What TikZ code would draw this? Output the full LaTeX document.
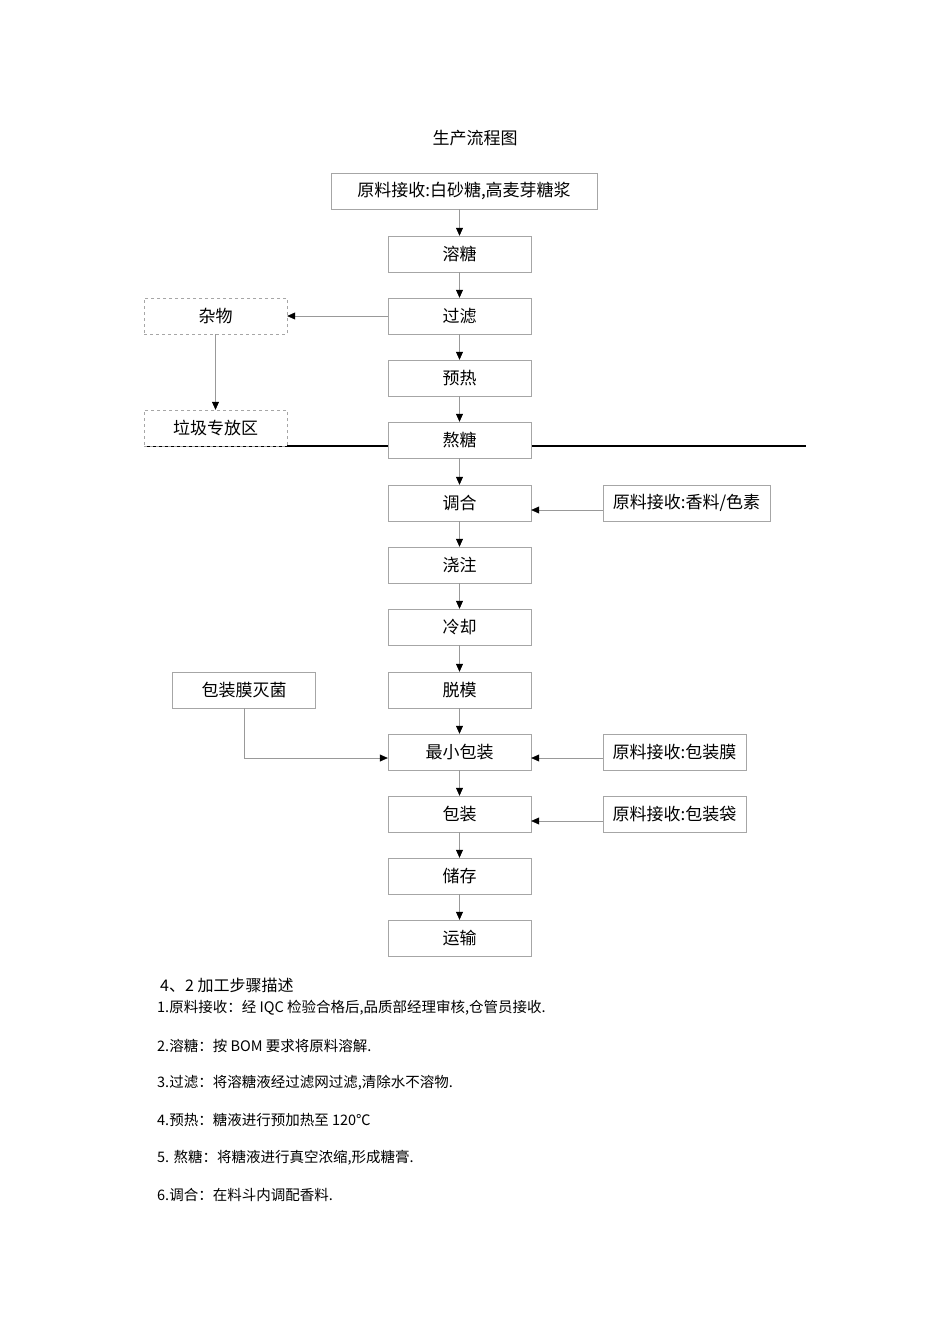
\documentclass[tikz,border=0pt]{standalone}
\usepackage{fontspec}
\setmainfont{Noto Sans CJK SC}
\usetikzlibrary{arrows.meta}
\begin{document}
\begin{tikzpicture}[x=1pt,y=-1pt,
 box/.style={draw=gray!70,fill=white,minimum width=143pt,minimum height=36pt,inner sep=1pt,font=\fontsize{17}{19}\selectfont},
 dbox/.style={box,dashed},
 arr/.style={draw=gray!80,line width=0.6pt,-{Triangle[length=8pt,width=7pt,fill=black,color=black]}},
 txt/.style={anchor=west,font=\fontsize{14.5}{16}\selectfont,inner sep=0}]
\useasboundingbox[fill=white] (0,0) rectangle (950,1344);
\draw[line width=1.6pt] (144,446) -- (806,446);
\node at (475,138) [font=\fontsize{17}{19}\selectfont] (title) {生产流程图};
\node[box,minimum width=266pt] (r0) at (464,191) {原料接收:白砂糖,高麦芽糖浆};
\foreach \n/\t/\y in {a/溶糖/254,b/过滤/316,c/预热/378,d/熬糖/440,e/调合/503,f/浇注/565,g/冷却/627,h/脱模/690,i/最小包装/752,j/包装/814,k/储存/876,l/运输/938}
  \node[box] (\n) at (459.5,\y) {\t};
\node[dbox] (zw) at (215.5,316) {杂物};
\node[dbox] (lj) at (215.5,428) {垃圾专放区};
\node[box,minimum width=167pt] (xl) at (686.5,503) {原料接收:香料/色素};
\node[box] (bzm) at (674.5,752) {原料接收:包装膜};
\node[box] (bzd) at (674.5,814) {原料接收:包装袋};
\node[box] (mj) at (244,690) {包装膜灭菌};
\draw[arr] (459.5,209) -- (a.north);
\draw[arr] (a) -- (b); \draw[arr] (b) -- (c); \draw[arr] (c) -- (d); \draw[arr] (d) -- (e);
\draw[arr] (e) -- (f); \draw[arr] (f) -- (g); \draw[arr] (g) -- (h); \draw[arr] (h) -- (i);
\draw[arr] (i) -- (j); \draw[arr] (j) -- (k); \draw[arr] (k) -- (l);
\draw[arr] (b) -- (zw);
\draw[arr] (zw) -- (lj);
\draw[arr] (xl.west |- 0,510) -- (e.east |- 0,510);
\draw[arr] (bzm.west |- 0,758) -- (i.east |- 0,758);
\draw[arr] (bzd.west |- 0,821) -- (j.east |- 0,821);
\draw[arr] (mj.south) |- (i.west |- 0,758);
\node[txt,font=\fontsize{16}{18}\selectfont] (h0) at (160,985) {4、2 加工步骤描述};
\node[txt] (t1) at (157,1008) {1.原料接收：经 IQC 检验合格后,品质部经理审核,仓管员接收.};
\node[txt] (t2) at (157,1046) {2.溶糖：按 BOM 要求将原料溶解.};
\node[txt] (t3) at (157,1083) {3.过滤：将溶糖液经过滤网过滤,清除水不溶物.};
\node[txt] (t4) at (157,1120) {4.预热：糖液进行预加热至 120℃};
\node[txt] (t5) at (157,1158) {5. 熬糖：将糖液进行真空浓缩,形成糖膏.};
\node[txt] (t6) at (157,1195) {6.调合：在料斗内调配香料.};
\end{tikzpicture}
\end{document}
